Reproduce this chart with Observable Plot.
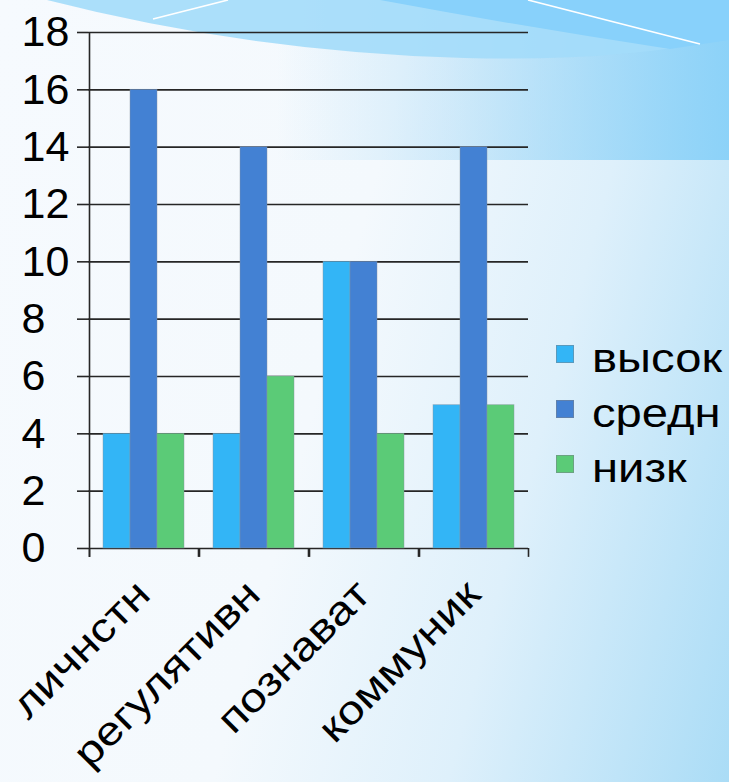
<!DOCTYPE html>
<html>
<head>
<meta charset="utf-8">
<script src="https://cdn.jsdelivr.net/npm/d3@7"></script>
<script src="https://cdn.jsdelivr.net/npm/@observablehq/plot@0.6"></script>
<style>
  html, body { margin: 0; padding: 0; }
  body { width: 729px; height: 782px; overflow: hidden; font-family: "Liberation Sans", Arial, sans-serif; }
  #wrap {
    position: relative; width: 729px; height: 782px; overflow: hidden;
    background: linear-gradient(105deg, #f6fafe 0%, #f4f9fd 45%, #def0fb 70%, #aadcf6 100%);
  }
  #topband {
    position: absolute; left: 0; top: 0; width: 729px; height: 160px;
    background: linear-gradient(to right, rgba(160,215,245,0) 38%, rgba(150,210,245,0.35) 62%, rgba(137,209,248,0.95) 100%);
  }
  #deco { position: absolute; left: 0; top: 0; }
  #chart { position: absolute; left: 0; top: 0; }
  #legend { position: absolute; left: 556px; top: 330px; }
  .item { display: flex; align-items: center; height: 55px; }
  .sw { width: 16px; height: 16px; border: 1px solid rgba(120,130,140,0.55); margin-right: 18px; margin-top: -7px; flex: none; }
  .lab { font-size: 40px; color: #000; line-height: 1; display: inline-block; transform: scaleX(1.18); transform-origin: left center; }
</style>
</head>
<body>
<div id="wrap">
  <div id="topband"></div>
  <svg id="deco" width="729" height="170" viewBox="0 0 729 170">
    <path d="M47 0 Q 250 52 465 58 Q 620 62 729 38 L 729 0 Z" fill="#a3dbf9" opacity="0.9"/>
    <path d="M380 0 Q 520 26 670 49 L 729 40 L 729 0 Z" fill="#88d1fb"/>
    <path d="M153 19 L 228 0" stroke="#ffffff" stroke-width="1.6"/>
    <path d="M528 0 L 700 44" stroke="#ffffff" stroke-width="1.6"/>
  </svg>
  <div id="chart"></div>
  <div id="legend"></div>
</div>
<script>
const categories = ["личнстн", "регулятивн", "познават", "коммуник"];
const series = ["высок", "средн", "низк"];
const vysok = [4, 4, 10, 5];
const sredn = [16, 14, 10, 14];
const nizk = [4, 6, 4, 5];
const colors = ["#33b5f6", "#4381d3", "#5bcb77"];
const yTicks = [0, 2, 4, 6, 8, 10, 12, 14, 16, 18];

const seriesValues = [vysok, sredn, nizk];
const table = categories.flatMap((c, i) =>
  series.map((s, k) => ({cat: c, series: s, value: seriesValues[k][i]}))
);

const axisColor = "#262626";
const tickBelow = -0.31;

const chart = Plot.plot({
  width: 729,
  height: 782,
  marginLeft: 88,
  marginRight: 201,
  marginTop: 32,
  marginBottom: 234,
  style: {background: "transparent", fontFamily: "'Liberation Sans', Arial, sans-serif", overflow: "visible", color: "#000"},
  fx: {domain: categories, paddingInner: 0, paddingOuter: 0, label: null},
  x: {domain: series, paddingInner: 0, paddingOuter: 0.5, axis: null},
  y: {domain: [0, 18], label: null},
  color: {domain: series, range: colors},
  marks: [
    Plot.gridY(yTicks, {stroke: axisColor, strokeOpacity: 1, strokeWidth: 1.6}),
    Plot.barY(table, {fx: "cat", x: "series", y: "value", fill: "series",
      stroke: "#8a95a3", strokeWidth: 0.8, strokeOpacity: 0.55}),
    // y axis line (first facet only)
    Plot.ruleX([{cat: categories[0], s: series[0]}], {fx: "cat", x: "s", dx: -27.5,
      y1: tickBelow, y2: 18, stroke: axisColor, strokeWidth: 1.6}),
    // category boundary ticks
    Plot.ruleX([{s: series[0]}], {x: "s", dx: -27.5, y1: tickBelow, y2: 0, stroke: axisColor, strokeWidth: 1.6}),
    Plot.ruleX([{s: series[2]}], {x: "s", dx: 27.5, y1: tickBelow, y2: 0, stroke: axisColor, strokeWidth: 1.6}),
    // y ticks
    Plot.axisY(yTicks, {tickSize: 11, tickFormat: () => "", stroke: axisColor, strokeWidth: 1.6, label: null}),
    // y labels (left-aligned)
    Plot.axisY(yTicks, {tickSize: 0, tickPadding: 3, tickFormat: d => String(d), fontSize: 43,
      textAnchor: "start", dx: -64, fill: "#000", label: null}),
    Plot.axisFx({anchor: "bottom", tickRotate: -45, tickSize: 0, tickPadding: 39,
      fontSize: 40, fill: "#000", label: null})
  ]
});
document.getElementById("chart").appendChild(chart);

// widen the category labels along their baseline, as in the reference
chart.querySelectorAll('[aria-label="fx-axis tick label"] text').forEach(t => {
  const tr = t.getAttribute("transform") || "";
  t.setAttribute("transform", tr + " scale(1.18,1)");
});

const legend = document.getElementById("legend");
series.forEach((s, k) => {
  const item = document.createElement("div");
  item.className = "item";
  const sw = document.createElement("div");
  sw.className = "sw";
  sw.style.background = colors[k];
  const lab = document.createElement("span");
  lab.className = "lab";
  lab.textContent = s;
  item.appendChild(sw);
  item.appendChild(lab);
  legend.appendChild(item);
});
</script>
</body>
</html>
